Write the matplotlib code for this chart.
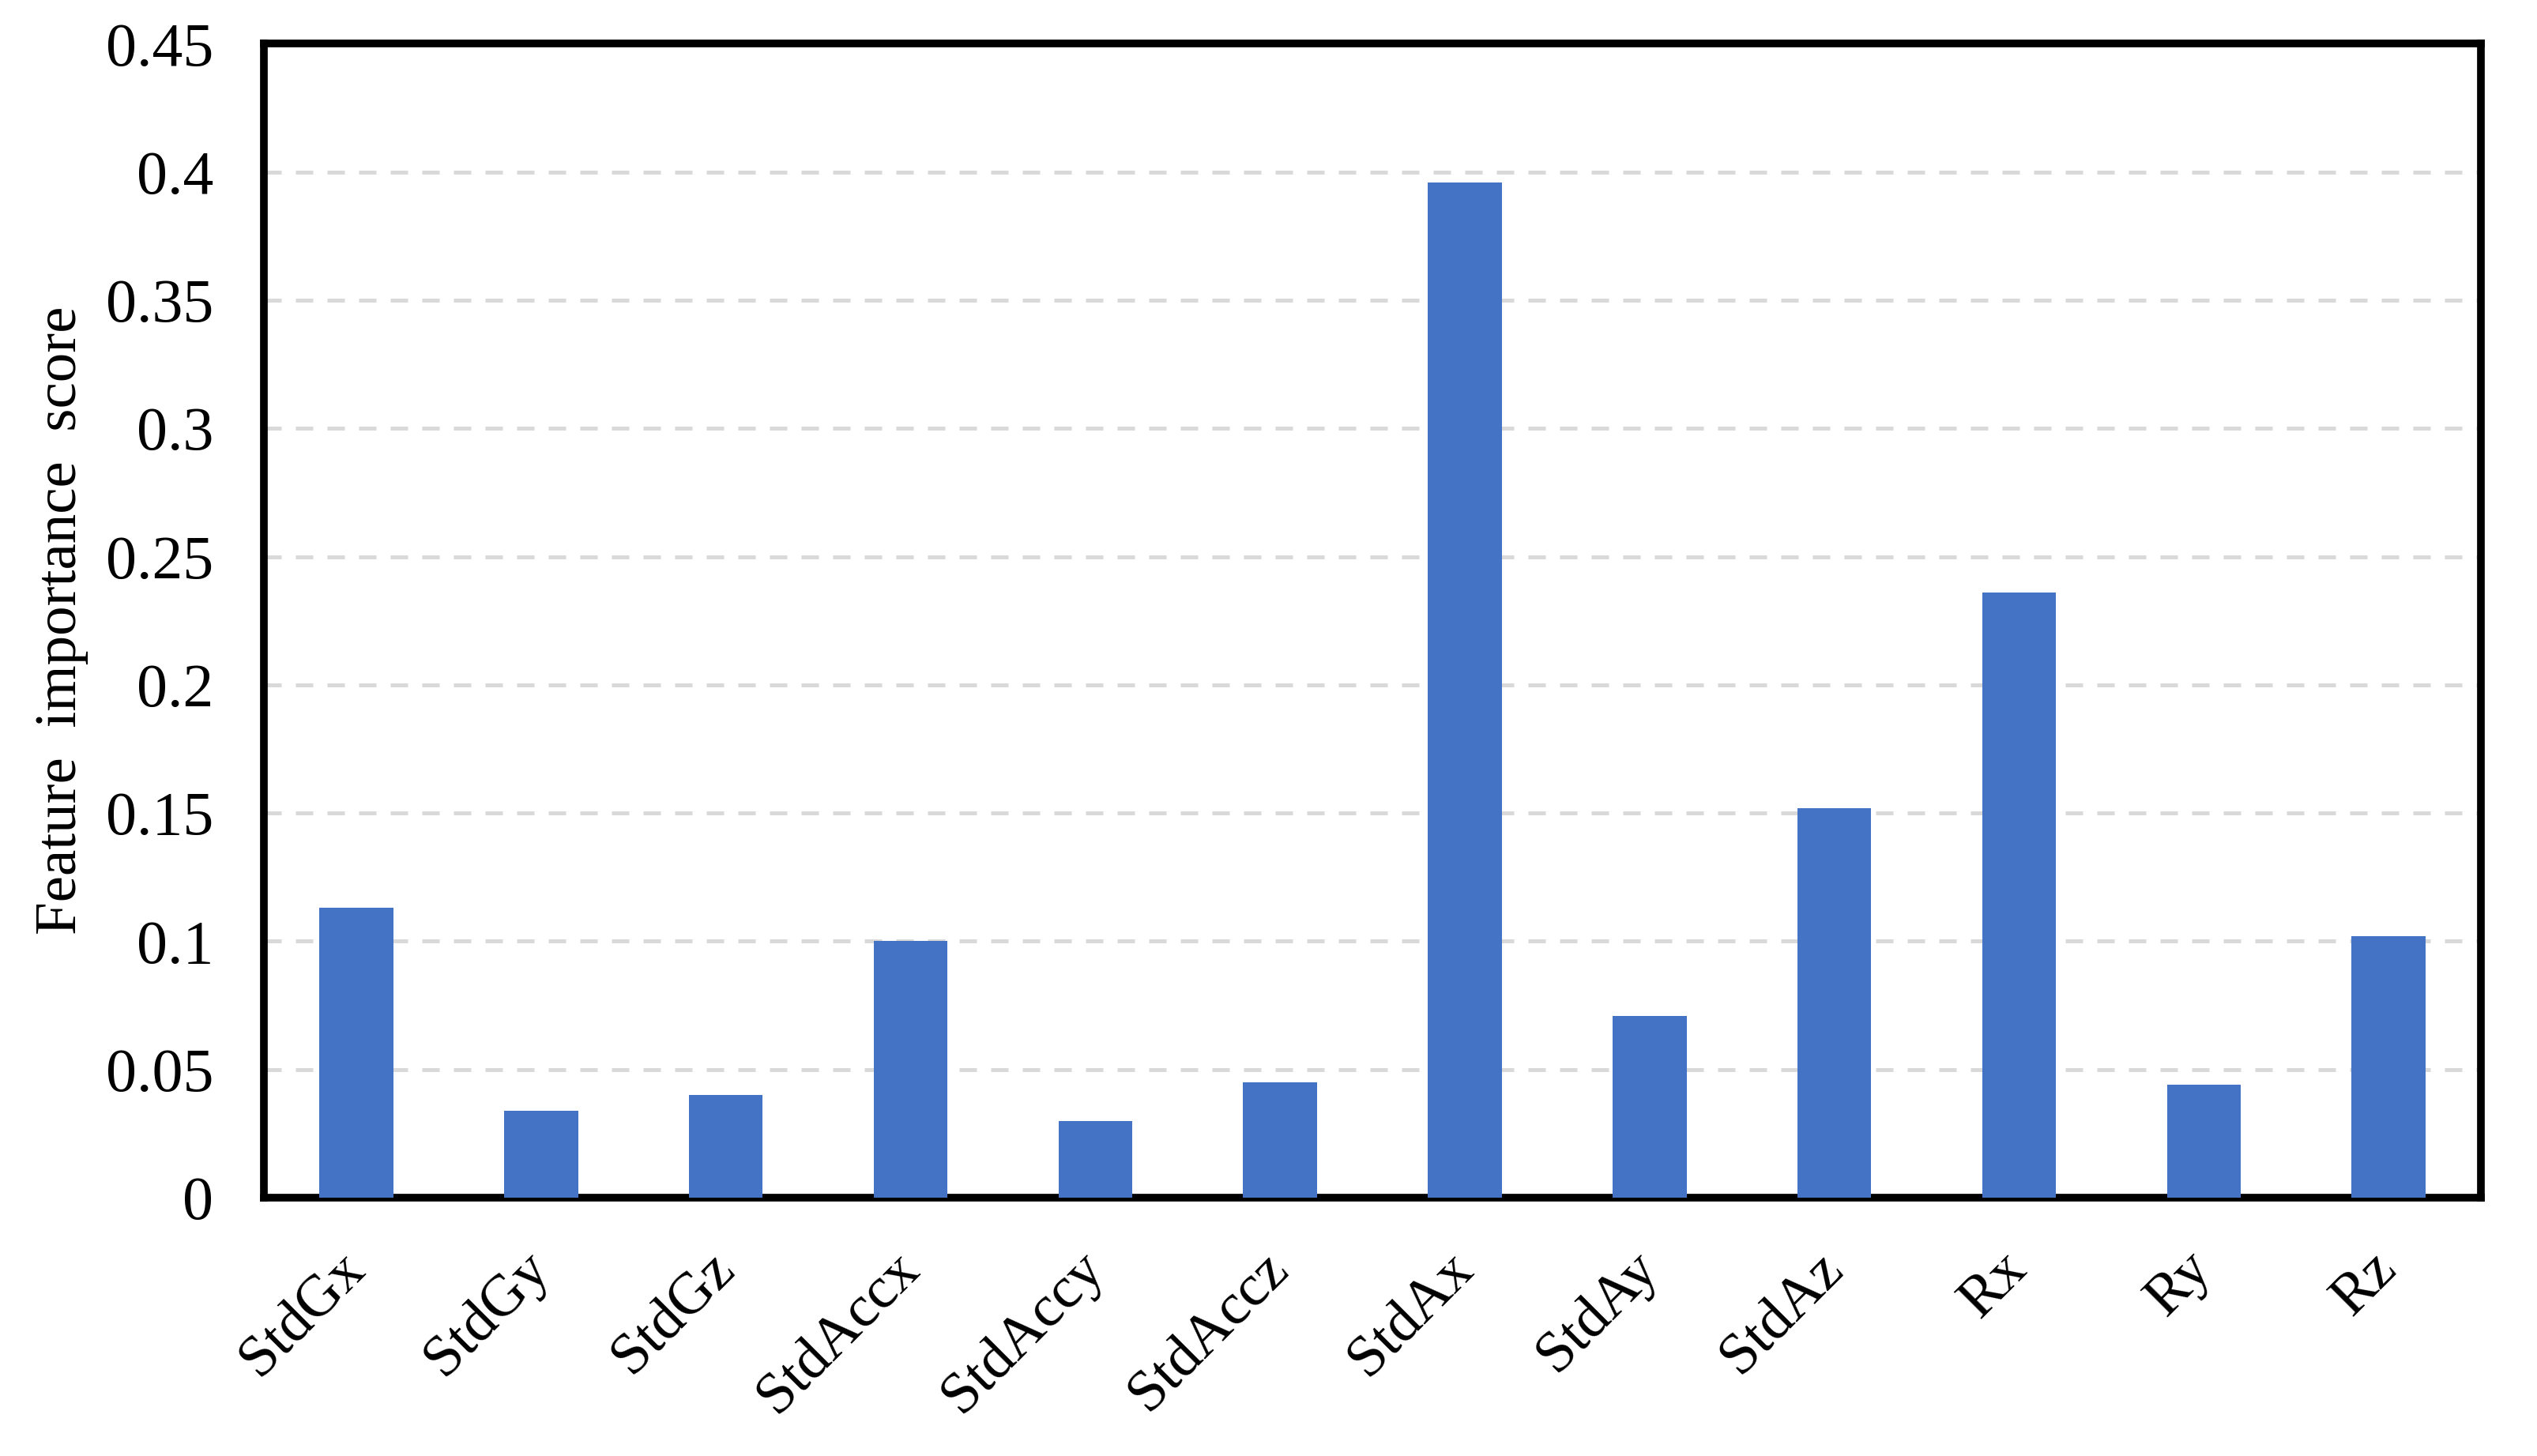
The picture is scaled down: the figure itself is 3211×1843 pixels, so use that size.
import numpy as np
import matplotlib
matplotlib.use("Agg")
import matplotlib.pyplot as plt
import matplotlib.transforms as mtransforms

# data
features = ["StdGx", "StdGy", "StdGz", "StdAccx", "StdAccy", "StdAccz",
            "StdAx", "StdAy", "StdAz", "Rx", "Ry", "Rz"]
scores = [0.113, 0.034, 0.040, 0.100, 0.030, 0.045,
          0.396, 0.071, 0.152, 0.236, 0.044, 0.102]
y_ticks = [0, 0.05, 0.1, 0.15, 0.2, 0.25, 0.3, 0.35, 0.4, 0.45]
y_tick_labels = ["0", "0.05", "0.1", "0.15", "0.2", "0.25", "0.3", "0.35", "0.4", "0.45"]

plt.rcParams['font.family'] = ['Liberation Serif', 'DejaVu Serif']

fig = plt.figure(figsize=(32.12, 18.43), dpi=100)
ax = fig.add_axes([0.104, 0.1774, 0.8736, 0.7926])

x = np.arange(len(features))
ax.bar(x, scores, width=0.4, color="#4472C4", zorder=3)

# dashed light grey gridlines
for yv in y_ticks[1:-1]:
    ax.axhline(yv, color="#d9d9d9", lw=3.6, dashes=(4.4, 3.6), zorder=1)

ax.set_xlim(-0.5, len(features) - 0.5)
ax.set_ylim(0, 0.45)
ax.set_yticks(y_ticks)
ax.set_yticklabels(y_tick_labels)
ax.set_xticks(x)
ax.set_xticklabels(features, rotation=45, ha="right", rotation_mode="anchor")

ax.tick_params(axis="y", length=0, pad=46, labelsize=56)
ax.tick_params(axis="x", length=0, pad=40, labelsize=54)

# nudge rotated labels a bit left
shift = mtransforms.ScaledTranslation(-0.24, 0, fig.dpi_scale_trans)
for lab in ax.get_xticklabels():
    lab.set_transform(lab.get_transform() + shift)

for s in ax.spines.values():
    s.set_linewidth(7)
    s.set_color("black")

ax.set_ylabel("Feature  importance  score", fontsize=54)
ax.yaxis.set_label_coords(-0.079, 0.5)

fig.savefig("out.png", dpi=100)
